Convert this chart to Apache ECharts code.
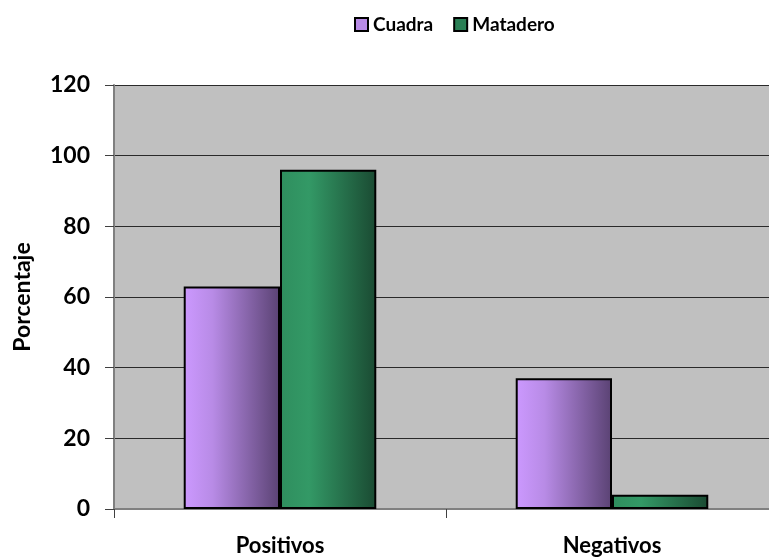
<!DOCTYPE html>
<html>
<head>
<meta charset="utf-8">
<script src="https://cdn.jsdelivr.net/npm/echarts@6/dist/echarts.min.js"></script>
<style>
  html, body { margin: 0; padding: 0; background: #ffffff; overflow: hidden; }
  /* the plot runs past the right edge of the window */
  #chart { width: 778px; height: 557px; }
</style>
</head>
<body>
<div id="chart"></div>
<script>
// Categories and percentages per sampling site
const categories = ['Positivos', 'Negativos'];
const cuadraValues = [63, 37];
const mataderoValues = [96, 4];
const yTicks = [0, 20, 40, 60, 80, 100, 120];

const FONT = 'Lato, "Open Sans", sans-serif';

function hGradient(stops) {
  return {
    type: 'linear', x: 0, y: 0, x2: 1, y2: 0,
    colorStops: stops.map(([offset, color]) => ({ offset, color }))
  };
}

const cuadraFill = hGradient([[0, '#CC99FF'], [0.3, '#B88BE6'], [1, '#5A4273']]);
const mataderoFill = hGradient([[0, '#2F8E5E'], [0.3, '#339966'], [1, '#1A4A32']]);

const chart = echarts.init(document.getElementById('chart'), null, { renderer: 'canvas' });

chart.setOption({
  animation: false,
  backgroundColor: '#ffffff',
  legend: {
    top: 10,
    left: 349,
    itemWidth: 13,
    itemHeight: 13,
    itemGap: 20,
    icon: 'rect',
    textStyle: { fontFamily: FONT, fontWeight: 'bold', fontSize: 19, color: '#000' },
    data: [
      { name: 'Cuadra', itemStyle: { color: '#B88BE6', borderColor: '#000', borderWidth: 2 } },
      { name: 'Matadero', itemStyle: { color: '#2A7F55', borderColor: '#000', borderWidth: 2 } }
    ]
  },
  grid: {
    left: 114,
    top: 85,
    bottom: 48,
    right: 0,
    show: true,
    backgroundColor: '#C0C0C0',
    borderWidth: 0
  },
  xAxis: {
    type: 'category',
    data: categories,
    axisLine: { show: true, lineStyle: { color: '#808080', width: 2 } },
    axisTick: { show: true, length: 9, lineStyle: { color: '#404040', width: 1 } },
    axisLabel: {
      margin: 26,
      fontFamily: FONT, fontWeight: 'bold', fontSize: 22, color: '#000'
    }
  },
  yAxis: {
    type: 'value',
    min: yTicks[0],
    max: yTicks[yTicks.length - 1],
    interval: 20,
    name: 'Porcentaje',
    nameLocation: 'middle',
    nameGap: 80,
    nameRotate: 90,
    nameTextStyle: { fontFamily: FONT, fontWeight: 'bold', fontSize: 23, color: '#000' },
    axisLine: { show: true, lineStyle: { color: '#808080', width: 2 } },
    axisTick: { show: true, length: 9, lineStyle: { color: '#404040', width: 1 } },
    axisLabel: {
      margin: 24,
      fontFamily: FONT, fontWeight: 'bold', fontSize: 23, color: '#000'
    },
    splitLine: { show: true, lineStyle: { color: '#2a2a2a', width: 1 } }
  },
  series: [
    {
      name: 'Cuadra',
      type: 'bar',
      data: cuadraValues,
      barGap: '0%',
      barCategoryGap: '42%',
      itemStyle: { color: cuadraFill, borderColor: '#000', borderWidth: 2 }
    },
    {
      name: 'Matadero',
      type: 'bar',
      data: mataderoValues,
      itemStyle: { color: mataderoFill, borderColor: '#000', borderWidth: 2 }
    }
  ]
});
</script>
</body>
</html>
